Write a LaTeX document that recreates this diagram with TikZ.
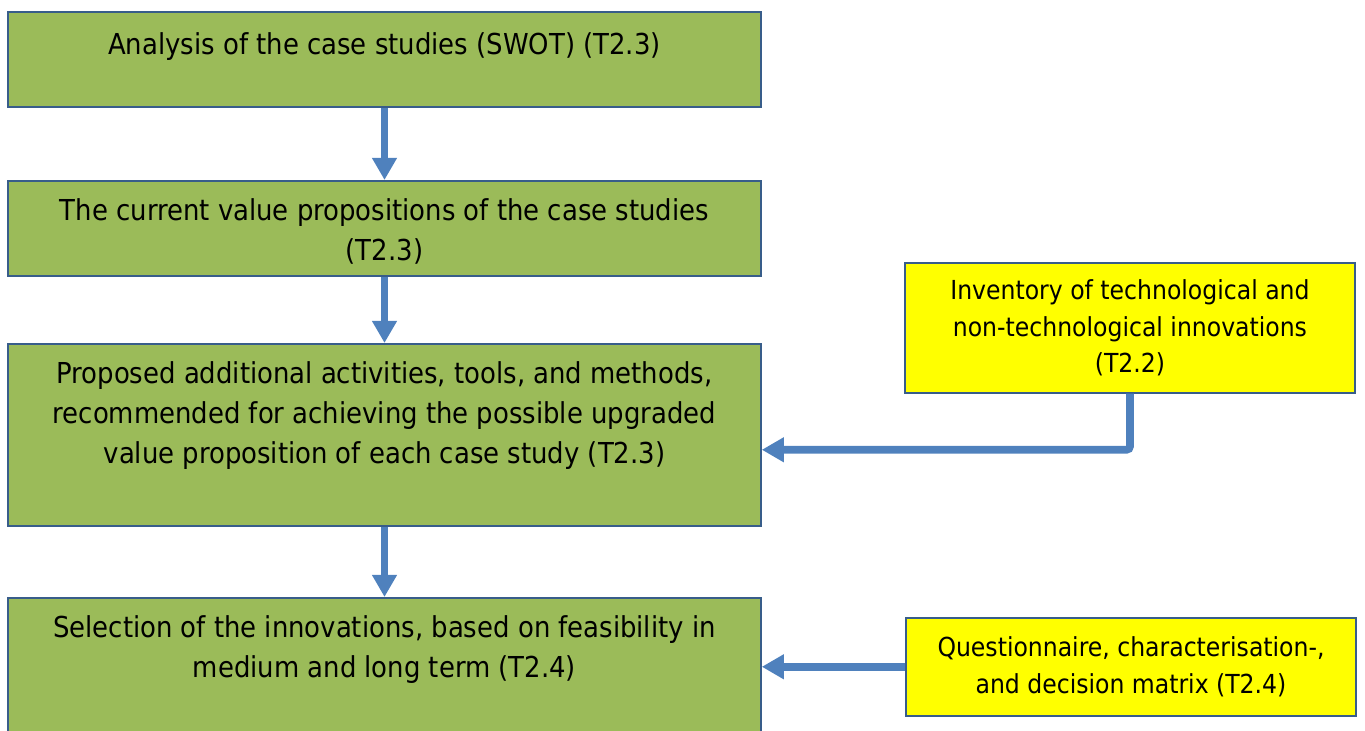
\documentclass[tikz,border=0pt]{standalone}
\usepackage{fontspec}
\setmainfont{DejaVu Sans Condensed}
\usetikzlibrary{arrows.meta,positioning,calc}
\definecolor{boxgreen}{HTML}{9BBB59}
\definecolor{boxedge}{HTML}{385D8A}
\definecolor{flowblue}{HTML}{4F81BD}
\definecolor{inputyellow}{HTML}{FFFF00}
\begin{document}
\begin{tikzpicture}[
        x=1cm, y=1cm,
        greenbox/.style={rectangle, draw=boxedge, line width=0.9pt, fill=boxgreen, minimum width=15.06cm, anchor=north, inner sep=0pt},
        yellowbox/.style={rectangle, draw=boxedge, line width=0.9pt, fill=inputyellow, minimum width=9.0cm, anchor=north, align=center, inner sep=0pt, font=\fontsize{14.9}{20.8}\selectfont},
        boxtext/.style={anchor=north, align=center, inner sep=0pt, font=\fontsize{16.4}{22.8}\selectfont},
        flow/.style={draw=flowblue, line width=4.4pt, -{Triangle[length=0.44cm, width=0.47cm]}}
    ]
        \useasboundingbox (0,0) rectangle (27.3,-14.62);

        % Main column
        \node[greenbox, minimum height=1.9cm] (b1) at (7.69,-0.22) {};
        \node[greenbox, minimum height=1.9cm] (b2) at (7.69,-3.6) {};
        \node[greenbox, minimum height=3.64cm] (b3) at (7.69,-6.86) {};
        \node[greenbox, minimum height=3.64cm] (b4) at (7.69,-11.94) {};

        \node[boxtext, below=0.42cm of b1.north] (t1) {Analysis of the case studies (SWOT) (T2.3)};
        \node[boxtext, below=0.36cm of b2.north] (t2) {The current value propositions of the case studies\\(T2.3)};
        \node[boxtext, below=0.36cm of b3.north] (t3) {Proposed additional activities, tools, and methods,\\recommended for achieving the possible upgraded\\value proposition of each case study (T2.3)};
        \node[boxtext, below=0.36cm of b4.north] (t4) {Selection of the innovations, based on feasibility in\\medium and long term (T2.4)};

        % Inputs
        \node[yellowbox, minimum height=2.6cm] (y1) at (22.6,-5.24) {Inventory of technological and\\non-technological innovations\\(T2.2)};
        \node[yellowbox, minimum height=1.96cm] (y2) at (22.62,-12.34) {Questionnaire, characterisation-,\\and decision matrix (T2.4)};

        % Arrows
        \draw[flow] (b1) -- (b2);
        \draw[flow] (b2) -- (b3);
        \draw[flow] (b3) -- (b4);
        \draw[flow, rounded corners=2pt] (y1.south) |- ([yshift=-0.3cm]b3.east);
        \draw[flow] (y2.west) -- (y2.west -| b4.east);
    \end{tikzpicture}
\end{document}
